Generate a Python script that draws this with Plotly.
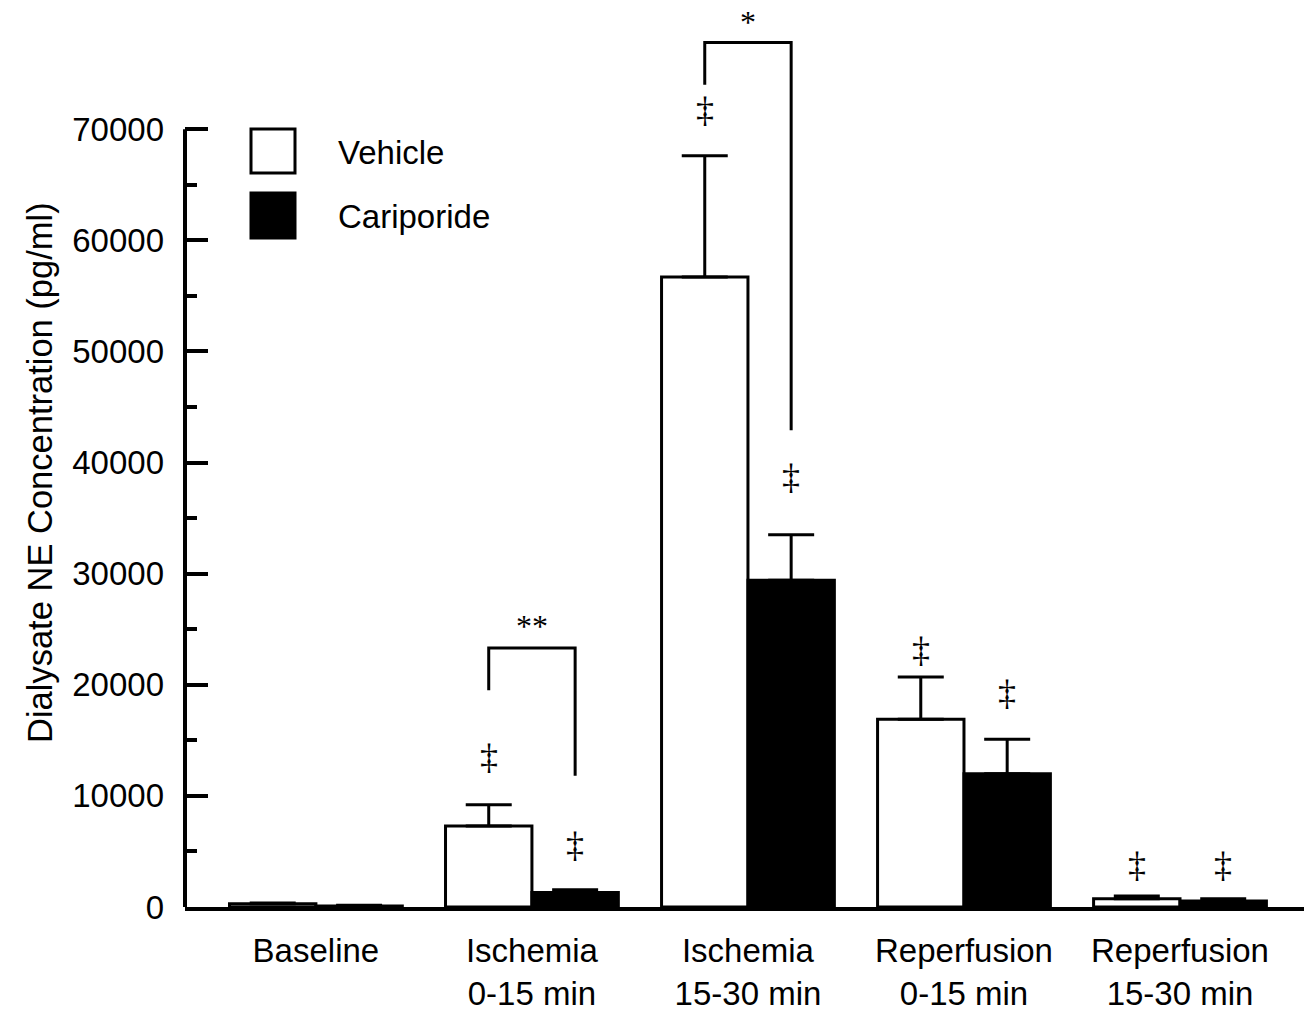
import plotly.graph_objects as go

# ---- data ----
categories = ["Baseline", "Ischemia<br>0-15 min", "Ischemia<br>15-30 min",
              "Reperfusion<br>0-15 min", "Reperfusion<br>15-30 min"]
vehicle_mean = [300, 7300, 56700, 16900, 750]
vehicle_upper = [350, 9200, 67600, 20700, 1000]       # mean + SEM
cariporide_mean = [100, 1300, 29400, 12000, 550]
cariporide_upper = [150, 1550, 33500, 15100, 750]     # mean + SEM
y_tickvals = [0, 10000, 20000, 30000, 40000, 50000, 60000, 70000]
y_ticktext = ["0", "10000", "20000", "30000", "40000", "50000", "60000", "70000"]
y_minorvals = [5000, 15000, 25000, 35000, 45000, 55000, 65000]

# significance markers (‡ vs baseline), y positions in data units
dagger_vehicle_y = [None, 13500, 71700, 23100, 3800]
dagger_cariporide_y = [None, 5600, 38700, 19300, 3800]

x = list(range(len(categories)))
FONT = "Liberation Sans, Arial, sans-serif"
SERIF = "Liberation Serif, Times New Roman, serif"
FS = 33

veh_err = [u - m for u, m in zip(vehicle_upper, vehicle_mean)]
car_err = [u - m for u, m in zip(cariporide_upper, cariporide_mean)]

fig = go.Figure()
fig.add_trace(go.Bar(
    x=x, y=vehicle_mean, name="Vehicle",
    marker=dict(color="white", line=dict(color="black", width=3)),
    error_y=dict(type="data", array=veh_err, arrayminus=[0]*len(x), symmetric=False,
                 color="black", thickness=3, width=23),
))
fig.add_trace(go.Bar(
    x=x, y=cariporide_mean, name="Cariporide",
    marker=dict(color="black", line=dict(color="black", width=3)),
    error_y=dict(type="data", array=car_err, arrayminus=[0]*len(x), symmetric=False,
                 color="black", thickness=3, width=23),
))

annotations = []
off = 0.2  # bar centre offset within the group
for i in x:
    if dagger_vehicle_y[i] is not None:
        annotations.append(dict(x=i - off, y=dagger_vehicle_y[i], text="‡", showarrow=False,
                                font=dict(family=SERIF, size=36, color="black"),
                                xanchor="center", yanchor="middle"))
    if dagger_cariporide_y[i] is not None:
        annotations.append(dict(x=i + off, y=dagger_cariporide_y[i], text="‡", showarrow=False,
                                font=dict(family=SERIF, size=36, color="black"),
                                xanchor="center", yanchor="middle"))

shapes = []
# brackets: (category index, left leg bottom, top, right leg bottom, label, label y)
brackets = [
    (1, 19500, 23300, 11800, "**", 25300),
    (2, 74000, 77800, 42900, "*", 79600),
]
for ci, lb, top, rb, lab, ly in brackets:
    shapes.append(dict(type="path", xref="x", yref="y",
                       path=f"M {ci-off},{lb} L {ci-off},{top} L {ci+off},{top} L {ci+off},{rb}",
                       line=dict(color="black", width=3)))
    annotations.append(dict(x=ci, y=ly, text=lab, showarrow=False,
                            font=dict(family=SERIF, size=32, color="black"),
                            xanchor="center", yanchor="middle"))

# y axis line only up to 70000
shapes.append(dict(type="line", xref="paper", yref="y", x0=0, x1=0, y0=0, y1=70000,
                   line=dict(color="black", width=4)))

# custom legend (page pixel positions -> paper coords)
W = 1119.0
H = 889.0
def px2paper_x(px):
    return (px - 185) / W
def px2paper_y(py):
    return (907 - py) / H

legend_items = [("Vehicle", "white", 129, 173, 152), ("Cariporide", "black", 193, 238, 216)]
for name, fill, t, b, cy in legend_items:
    shapes.append(dict(type="rect", xref="paper", yref="paper",
                       x0=px2paper_x(251), x1=px2paper_x(295), y0=px2paper_y(b), y1=px2paper_y(t),
                       fillcolor=fill, line=dict(color="black", width=3)))
    annotations.append(dict(xref="paper", yref="paper", x=px2paper_x(336), y=px2paper_y(cy),
                            text=name, showarrow=False, xanchor="left", yanchor="middle",
                            font=dict(family=FONT, size=FS, color="black")))

# y axis title
annotations.append(dict(xref="paper", yref="paper", x=px2paper_x(40), y=px2paper_y(473),
                        text="Dialysate NE Concentration (pg/ml)", textangle=-90,
                        showarrow=False, xanchor="center", yanchor="middle",
                        font=dict(family=FONT, size=34.5, color="black")))

fig.update_layout(
    width=1304, height=1014,
    margin=dict(l=185, r=0, t=18, b=107),
    paper_bgcolor="white", plot_bgcolor="white",
    barmode="group", bargap=0.2, bargroupgap=0,
    showlegend=False,
    font=dict(family=FONT, size=FS, color="black"),
    shapes=shapes, annotations=annotations,
    xaxis=dict(range=[-0.606, 4.574], tickmode="array", tickvals=x, ticktext=categories,
               showline=True, linecolor="black", linewidth=4, ticks="",
               showgrid=False, zeroline=False, ticklabelstandoff=11,
               tickfont=dict(family=FONT, size=FS, color="black")),
    yaxis=dict(range=[0, 80000], tickmode="array", tickvals=y_tickvals, ticktext=y_ticktext,
               ticks="inside", ticklen=23, tickwidth=4, tickcolor="black",
               showline=False, showgrid=False, zeroline=False,
               ticklabelstandoff=20,
               tickfont=dict(family=FONT, size=FS, color="black"),
               minor=dict(tickmode="array", tickvals=y_minorvals, ticks="inside",
                          ticklen=12, tickwidth=4, tickcolor="black", showgrid=False)),
)

# remove the default 8px page margin so the figure fills the window exactly
fig.write_html("out.html", config={"displayModeBar": False},
               post_script="document.body.style.margin='0';")
